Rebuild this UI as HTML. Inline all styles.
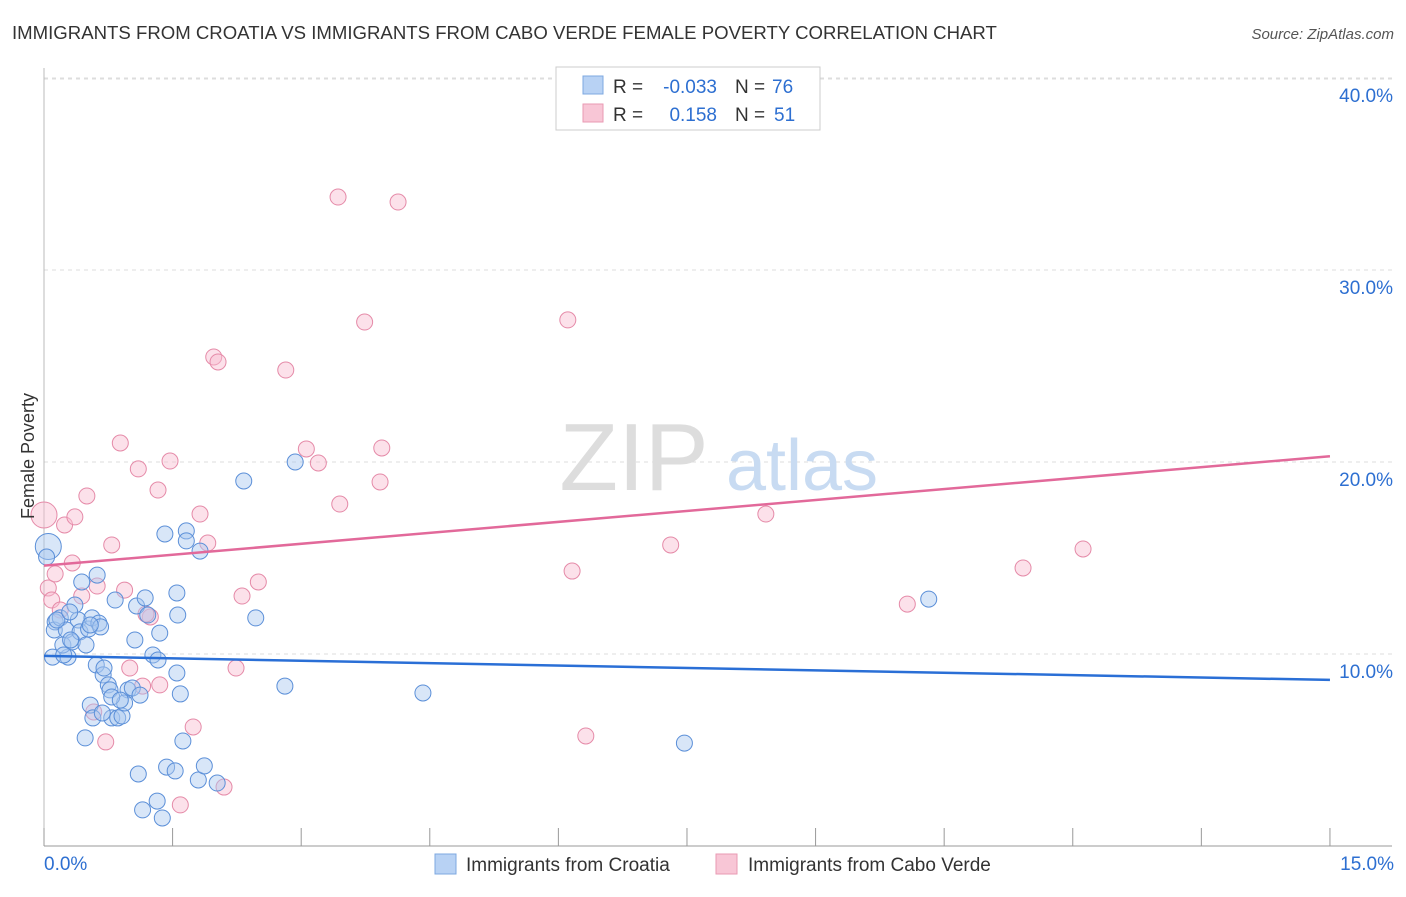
<!DOCTYPE html>
<html><head><meta charset="utf-8">
<style>
body{margin:0;background:#fff;font-family:"Liberation Sans",sans-serif;}
svg text{font-family:"Liberation Sans",sans-serif;}
</style></head>
<body>
<svg id="chart" width="1406" height="892" xmlns="http://www.w3.org/2000/svg">
<text x="12" y="39" font-size="18.6" fill="#333">IMMIGRANTS FROM CROATIA VS IMMIGRANTS FROM CABO VERDE FEMALE POVERTY CORRELATION CHART</text>
<text x="1394" y="39" font-size="15" fill="#555" text-anchor="end" font-style="italic">Source: ZipAtlas.com</text>
<g id="grid"></g>
<g>
<text x="634" y="490" font-size="96" fill="#ddd" text-anchor="middle" font-family="Liberation Serif,serif">ZIP</text>
<text x="802" y="490" font-size="72" fill="#c8dbf2" text-anchor="middle">atlas</text>
</g>
<g id="marks"></g>
<text transform="translate(34,456) rotate(-90)" font-size="18" fill="#333" text-anchor="middle">Female Poverty</text>
<g>
<rect x="556" y="67" width="264" height="63" fill="#fff" stroke="#ccc"/>
<rect x="583" y="76" width="20" height="18" fill="#b8d2f4" stroke="#7ea8e0"/>
<rect x="583" y="104" width="20" height="18" fill="#f8c6d6" stroke="#e99ab3"/>
<text x="613" y="93" font-size="19" fill="#333">R =</text>
<text x="717" y="93" font-size="19" fill="#2d6fd1" text-anchor="end">-0.033</text>
<text x="735" y="93" font-size="19" fill="#333">N =</text>
<text x="772" y="93" font-size="19" fill="#2d6fd1">76</text>
<text x="613" y="121" font-size="19" fill="#333">R =</text>
<text x="717" y="121" font-size="19" fill="#2d6fd1" text-anchor="end">0.158</text>
<text x="735" y="121" font-size="19" fill="#333">N =</text>
<text x="774" y="121" font-size="19" fill="#2d6fd1">51</text>
</g>
<g>
<rect x="435" y="854" width="21" height="20" fill="#b8d2f4" stroke="#7ea8e0"/>
<text x="466" y="871" font-size="19" fill="#333">Immigrants from Croatia</text>
<rect x="716" y="854" width="21" height="20" fill="#f8c6d6" stroke="#e99ab3"/>
<text x="748" y="871" font-size="19" fill="#333">Immigrants from Cabo Verde</text>
</g>
</svg>
<script>
const yTicks=[10,20,30,40];
const yTickLabels=["10.0%","20.0%","30.0%","40.0%"];
const xTicks=[0,1.5,3,4.5,6,7.5,9,10.5,12,13.5,15];
const xEndLabels=["0.0%","15.0%"];
const croatiaX=[0.05,0.03,0.13,0.12,0.10,0.19,0.26,0.28,0.22,0.33,0.36,0.40,0.42,0.44,0.49,0.52,0.56,0.62,0.64,0.66,0.61,0.69,0.75,0.77,0.83,0.54,0.48,0.57,0.79,0.86,0.91,0.98,1.03,1.12,1.06,1.08,1.18,1.21,1.35,1.27,1.33,1.41,1.55,1.56,1.55,1.59,1.66,1.66,1.82,1.62,1.43,1.53,1.10,1.32,1.15,1.38,1.80,1.87,2.02,2.33,2.47,2.81,2.93,4.42,7.47,10.32,0.94,0.79,0.70,0.31,0.23,0.15,0.54,0.30,0.68,0.89];
const croatiaY=[15.6,15.05,11.67,11.25,9.84,11.88,11.25,9.84,10.47,10.63,12.55,11.77,11.15,13.75,10.47,11.3,11.88,14.11,11.61,11.41,9.43,8.91,8.39,8.13,12.81,7.34,5.63,6.67,6.67,6.67,6.77,8.13,8.23,7.86,10.73,12.5,12.92,12.03,11.09,9.95,9.69,16.25,13.18,12.03,9.01,7.92,16.41,15.89,15.36,5.47,4.11,3.91,3.75,2.34,1.88,1.46,3.44,4.17,3.28,19.01,11.88,8.33,20.0,7.97,5.36,12.86,7.45,7.76,9.27,10.73,9.95,11.77,11.51,12.19,6.93,7.6];
const caboX=[0,0.05,0.13,0.09,0.19,0.24,0.36,0.33,0.44,0.50,0.62,0.79,0.94,0.89,1.10,1.33,1.47,1.82,1.91,1.98,2.03,2.31,2.50,2.82,3.06,3.20,3.45,3.43,3.74,3.94,3.92,4.13,6.11,6.16,7.31,8.42,10.07,11.42,12.12,6.32,1.24,1.19,1.00,1.15,1.35,2.24,1.74,1.59,2.10,0.72,0.58];
const caboY=[17.24,13.44,14.17,12.81,12.29,16.72,17.14,14.74,13.02,18.23,13.54,15.68,13.33,20.99,19.64,18.54,20.05,17.29,15.78,25.47,25.21,13.02,13.75,24.79,20.68,19.95,17.81,33.8,27.29,20.73,18.96,33.54,27.4,14.32,15.68,17.29,12.6,14.48,15.47,5.73,11.93,12.08,9.27,8.33,8.39,9.27,6.2,2.14,3.07,5.42,6.98];
const croatiaTrend=[9.9,8.65];
const caboTrend=[14.6,20.3];
const sx=v=>44+v*85.73, sy=v=>846-v*19.2;
const NS="http://www.w3.org/2000/svg";
function mk(t,a,p){const e=document.createElementNS(NS,t);for(const k in a)e.setAttribute(k,a[k]);p.appendChild(e);return e;}
const grid=document.getElementById('grid'), marks=document.getElementById('marks');
yTicks.forEach((v,i)=>{
 const l=mk('line',{x1:44,x2:1392,y1:sy(v),y2:sy(v),stroke:'#ddd','stroke-dasharray':'4,4'},grid);
 
 
 const t=mk('text',{x:1393,y:sy(v)+24,'font-size':19,fill:'#2d6fd1','text-anchor':'end'},grid);
 t.textContent=yTickLabels[i];
 
 
});
const topLine=mk('line',{x1:44,x2:1392,y1:79,y2:79,stroke:'#ddd','stroke-dasharray':'4,4'},grid);


const ax=mk('line',{x1:44,x2:1392,y1:846,y2:846,stroke:'#999'},grid);


const ay=mk('line',{x1:44,x2:44,y1:68,y2:846,stroke:'#bbb'},grid);


xTicks.forEach(v=>{
 const l=mk('line',{x1:sx(v),x2:sx(v),y1:828,y2:846,stroke:'#999'},grid);
 
 
});
const xl0=mk('text',{x:44,y:870,'font-size':19,fill:'#2d6fd1'},grid);xl0.textContent=xEndLabels[0];


const xl1=mk('text',{x:1394,y:870,'font-size':19,fill:'#2d6fd1','text-anchor':'end'},grid);xl1.textContent=xEndLabels[1];


function pts(X,Y,fill,stroke,name){
 X.forEach((x,i)=>{
  const r=(i===0)?13:8;
  const c=mk('circle',{cx:sx(x),cy:sy(Y[i]),r:r,fill:fill,'fill-opacity':0.45,stroke:stroke,'stroke-width':1},marks);
  
  
 });
}
pts(caboX,caboY,'#f8bcd0','#e58aa8','cabo-verde-point');
pts(croatiaX,croatiaY,'#a9c8f0','#5b8fd8','croatia-point');
const t1=mk('line',{x1:sx(0),y1:sy(croatiaTrend[0]),x2:sx(15),y2:sy(croatiaTrend[1]),stroke:'#2a6fd6','stroke-width':2.5},marks);


const t2=mk('line',{x1:sx(0),y1:sy(caboTrend[0]),x2:sx(15),y2:sy(caboTrend[1]),stroke:'#e2699a','stroke-width':2.5},marks);


</script>
</body></html>
